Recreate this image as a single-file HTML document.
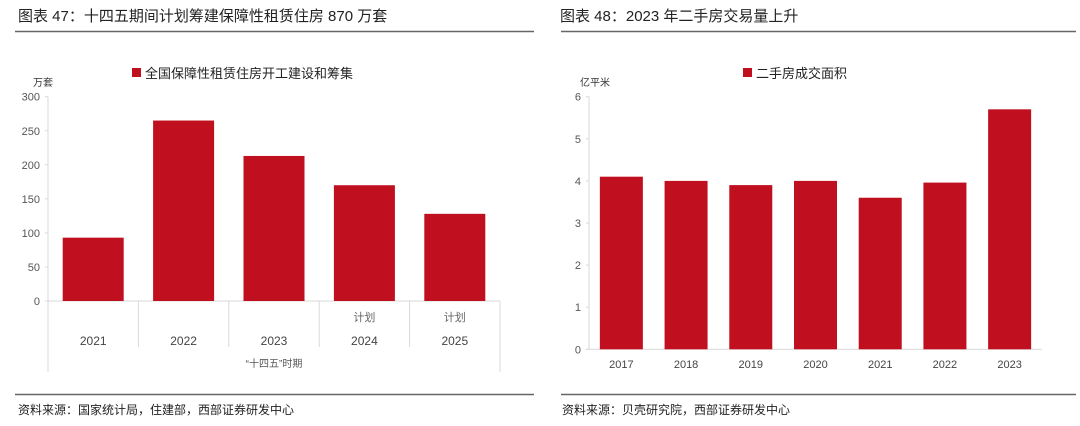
<!DOCTYPE html>
<html><head><meta charset="utf-8">
<style>
body{margin:0;width:1080px;height:421px;background:#fff;overflow:hidden;font-family:"Liberation Sans","Noto Sans CJK SC",sans-serif;}
svg text{font-family:"Liberation Sans","Noto Sans CJK SC",sans-serif;}
</style></head>
<body>
<svg width="1080" height="421">
  <text x="18" y="21" font-size="15" fill="#222">图表 47：十四五期间计划筹建保障性租赁住房 870 万套</text>
  <text x="560" y="21" font-size="15" fill="#222">图表 48：2023 年二手房交易量上升</text>
  <line x1="15" y1="31.5" x2="534" y2="31.5" stroke="#666" stroke-width="1.5"/>
  <line x1="561" y1="31.5" x2="1076" y2="31.5" stroke="#666" stroke-width="1.5"/>
  <line x1="15" y1="394.5" x2="534" y2="394.5" stroke="#666" stroke-width="1.5"/>
  <line x1="561" y1="394.5" x2="1076" y2="394.5" stroke="#666" stroke-width="1.5"/>
  <text x="18" y="414" font-size="12" fill="#222">资料来源：国家统计局，住建部，西部证券研发中心</text>
  <text x="562" y="414" font-size="12" fill="#222">资料来源：贝壳研究院，西部证券研发中心</text>
  <g id="left"></g>
  <g id="right"></g>
</svg>
<script>
const leftCategories = ['2021','2022','2023','2024','2025'];
const leftValues = [93, 265, 213, 170, 128];
const leftTopLabels = ['','','','计划','计划'];
const leftTicks = [0,50,100,150,200,250,300];
const rightCategories = ['2017','2018','2019','2020','2021','2022','2023'];
const rightValues = [4.1, 4.0, 3.9, 4.0, 3.6, 3.96, 5.7];
const rightTicks = [0,1,2,3,4,5,6];
const NS='http://www.w3.org/2000/svg';
function mk(parent, tag, attrs, txt){const e=document.createElementNS(NS,tag);for(const k in attrs)e.setAttribute(k,attrs[k]);if(txt!==undefined)e.textContent=txt;parent.appendChild(e);return e;}

// Left chart
(function(){
  const g=document.getElementById('left');
  const x0=48,x1=500,y0=301,yTop=96.7,max=300;
  const y=v=>y0-(v/max)*(y0-yTop);
  const cw=(x1-x0)/leftCategories.length, bw=61;
  const ax=mk(g,'line',{x1:x0,y1:yTop,x2:x0,y2:372,stroke:'#d9d9d9'});
  
  
  leftTicks.forEach(t=>{
    const tl=mk(g,'text',{x:x0-8,y:y(t)+4,'font-size':11,fill:'#555','text-anchor':'end'},String(t));
    
    
    const tk=mk(g,'line',{x1:x0-3,y1:y(t),x2:x0,y2:y(t),stroke:'#d9d9d9'});
    
    
  });
  const bl=mk(g,'line',{x1:x0,y1:y0,x2:x1,y2:y0,stroke:'#d9d9d9'});
  
  
  const re=mk(g,'line',{x1:x1,y1:y0,x2:x1,y2:372,stroke:'#d9d9d9'});
  
  
  leftCategories.forEach((c,i)=>{
    const cx=x0+cw*(i+0.5);
    const b=mk(g,'rect',{x:cx-bw/2,y:y(leftValues[i]),width:bw,height:y0-y(leftValues[i]),fill:'#c00f1e'});
    
    
    if(i>0){const s=mk(g,'line',{x1:x0+cw*i,y1:y0,x2:x0+cw*i,y2:347,stroke:'#d9d9d9'});
      
      }
    const l=mk(g,'text',{x:cx,y:345,'font-size':12,fill:'#444','text-anchor':'middle'},c);
    
    
    if(leftTopLabels[i]){const p=mk(g,'text',{x:cx,y:321,'font-size':11,fill:'#666','text-anchor':'middle'},leftTopLabels[i]);
      
      }
  });
  const grp=mk(g,'text',{x:(x0+x1)/2,y:367,'font-size':10,fill:'#555','text-anchor':'middle'},'“十四五”时期');
  
  
  const u=mk(g,'text',{x:33,y:86,'font-size':10,fill:'#333'},'万套');
  
  
  const lr=mk(g,'rect',{x:132,y:68,width:9,height:9,fill:'#c00f1e'});
  
  
  const lt=mk(g,'text',{x:145,y:78,'font-size':13,fill:'#222'},'全国保障性租赁住房开工建设和筹集');
  
  
})();

// Right chart
(function(){
  const g=document.getElementById('right');
  const x0=589,x1=1042,y0=349.3,yTop=96.7,max=6;
  const y=v=>y0-(v/max)*(y0-yTop);
  const cw=(x1-x0)/rightCategories.length, bw=43;
  const ax=mk(g,'line',{x1:x0,y1:yTop,x2:x0,y2:y0,stroke:'#d9d9d9'});
  
  
  rightTicks.forEach(t=>{
    const tl=mk(g,'text',{x:x0-8,y:y(t)+4,'font-size':11,fill:'#555','text-anchor':'end'},String(t));
    
    
    const tk=mk(g,'line',{x1:x0-3,y1:y(t),x2:x0,y2:y(t),stroke:'#d9d9d9'});
    
    
  });
  const bl=mk(g,'line',{x1:x0-3,y1:y0,x2:x1,y2:y0,stroke:'#d9d9d9'});
  
  
  rightCategories.forEach((c,i)=>{
    const cx=x0+cw*(i+0.5);
    const b=mk(g,'rect',{x:cx-bw/2,y:y(rightValues[i]),width:bw,height:y0-y(rightValues[i]),fill:'#c00f1e'});
    
    
    const l=mk(g,'text',{x:cx,y:368,'font-size':11,fill:'#444','text-anchor':'middle'},c);
    
    
  });
  const u=mk(g,'text',{x:580,y:86,'font-size':10,fill:'#333'},'亿平米');
  
  
  const lr=mk(g,'rect',{x:743,y:68,width:9,height:9,fill:'#c00f1e'});
  
  
  const lt=mk(g,'text',{x:756,y:78,'font-size':13,fill:'#222'},'二手房成交面积');
  
  
})();
</script>
</body></html>
